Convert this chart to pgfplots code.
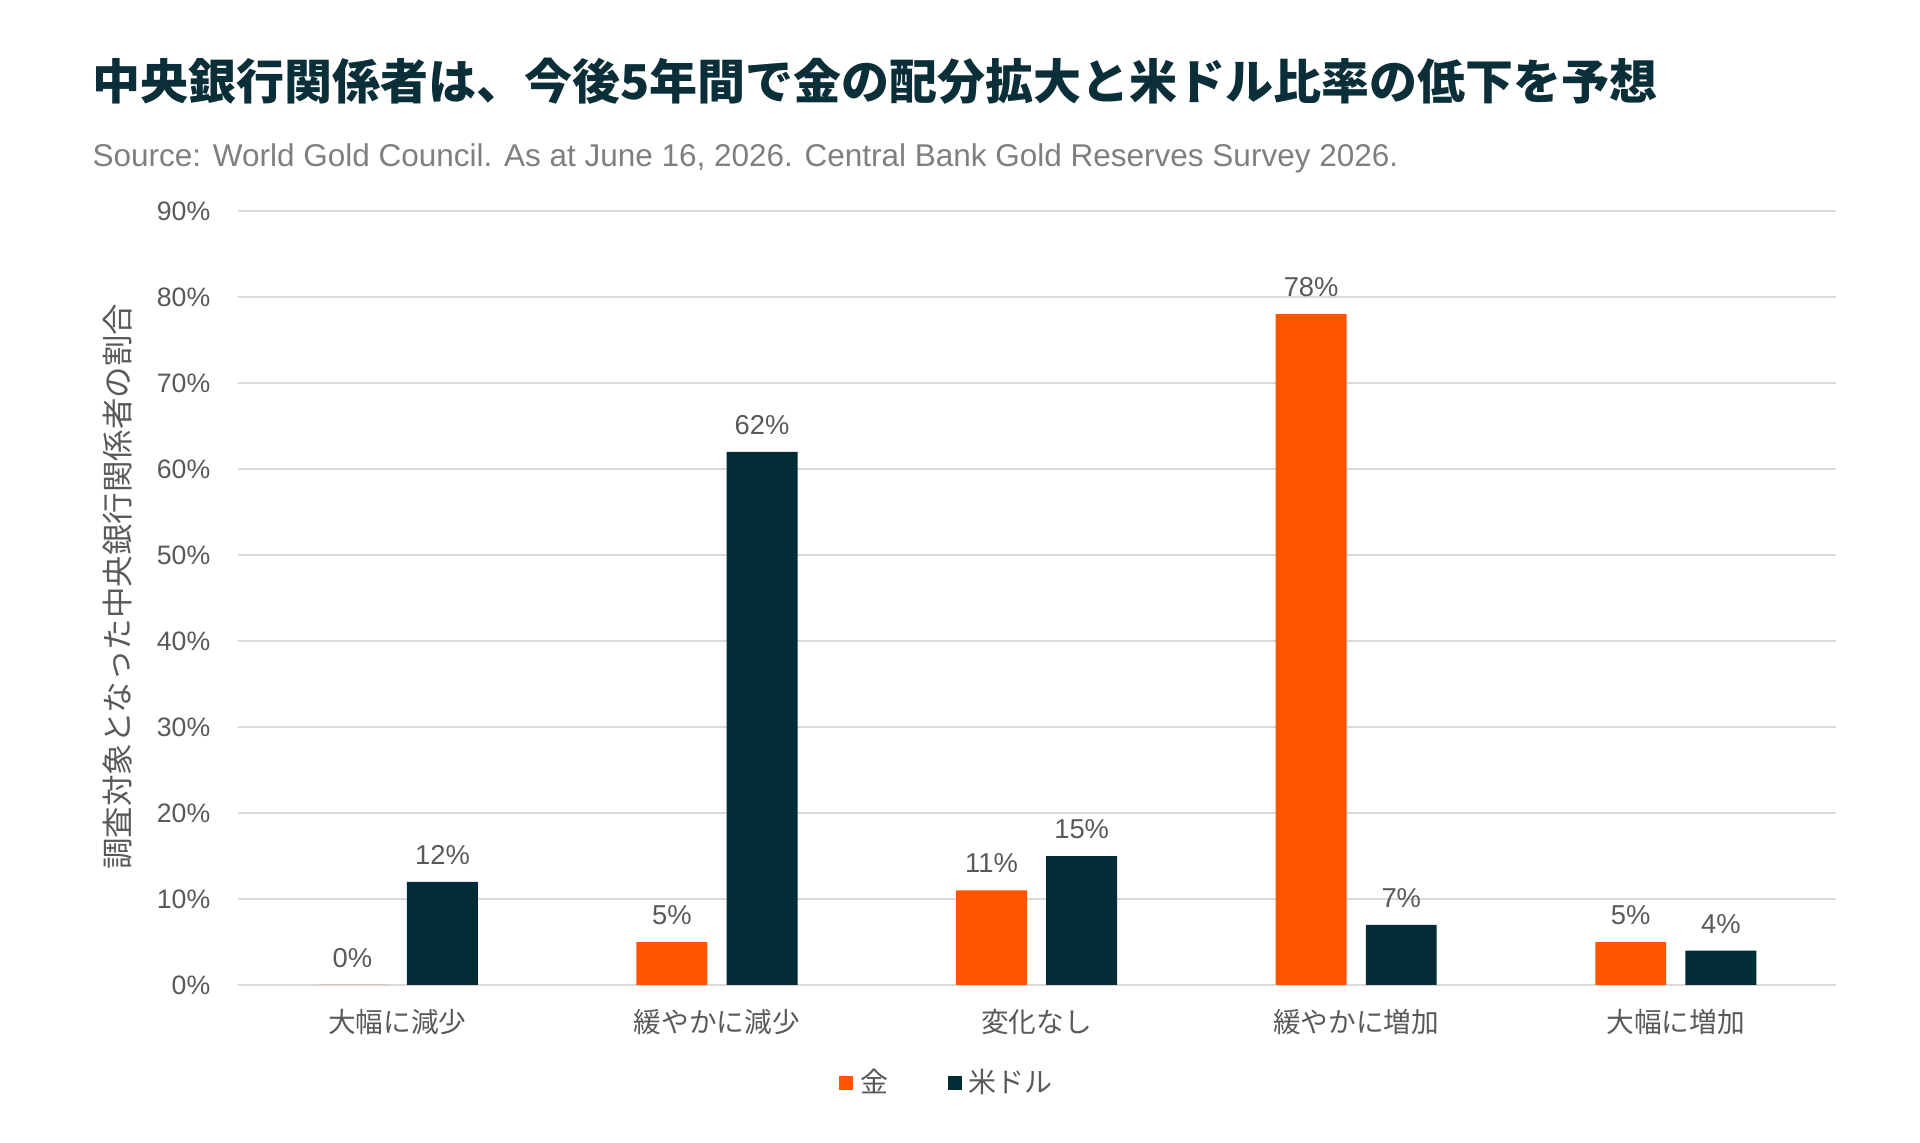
\documentclass[border=0pt]{standalone}
\usepackage{pgfplots}
\pgfplotsset{compat=1.18}
\usepackage{fontspec}
\setmainfont{Liberation Sans}
\newfontfamily\jp{Noto Sans CJK JP}
\definecolor{gold}{HTML}{FF5500}
\definecolor{usd}{HTML}{022D36}
\definecolor{titlec}{HTML}{0B2F38}
\definecolor{txt}{HTML}{595959}
\definecolor{subc}{HTML}{7F7F7F}
\definecolor{gridc}{HTML}{D9D9D9}
\begin{document}
\begin{tikzpicture}
\path[use as bounding box] (0,0) rectangle (576pt,342.9pt);
\begin{axis}[
  at={(71.28pt,47.4pt)}, anchor=south west,
  scale only axis, width=479.4pt, height=232.2pt,
  /pgf/number format/assume math mode=true,
  ybar, bar width=0.222,
  xmin=-0.5, xmax=4.5, ymin=0, ymax=90,
  xtick={0,1,2,3,4},
  xticklabels={大幅に減少,緩やかに減少,変化なし,緩やかに増加,大幅に増加},
  ytick={0,10,...,90},
  yticklabel={\pgfmathprintnumber{\tick}\%},
  axis line style={draw=none}, major tick length=0pt,
  ymajorgrids, grid style={gridc, line width=0.8pt},
  yticklabel style={font=\fontsize{8}{10}\selectfont, text=txt, inner sep=0pt, anchor=east, xshift=-8pt},
  xticklabel style={font=\jp\fontsize{8.3}{10}\selectfont, text=txt, inner sep=0pt, anchor=center, yshift=-11.1pt},
  nodes near coords={\pgfmathprintnumber{\pgfplotspointmeta}\%},
  every node near coord/.append style={font=\fontsize{8.2}{10}\selectfont, text=txt, anchor=south, inner sep=0pt, yshift=5pt},
  legend style={at={(0.4455,-0.1266)}, anchor=center, draw=none, fill=none, legend columns=2,
    font=\jp\fontsize{8.4}{10}\selectfont, text=txt,
    /tikz/every even column/.append style={column sep=16pt},
    nodes={inner sep=2pt}},
  legend cell align=left,
  legend image code/.code={\draw[#1,draw=none] (0pt,-2.1pt) rectangle (4.2pt,2.1pt);},
]
\addplot[fill=gold, draw=none, bar shift=-0.141] coordinates {(0,0) (1,5) (2,11) (3,78) (4,5)};
\addplot[fill=usd, draw=none, bar shift=0.141] coordinates {(0,12) (1,62) (2,15) (3,7) (4,4)};
\legend{金,米ドル}
\end{axis}
\node[anchor=west, inner sep=0pt, text=titlec, font=\jp\bfseries\fontsize{14.4}{17}\selectfont] at (27.6pt,318.4pt) {中央銀行関係者は、今後5年間で金の配分拡大と米ドル比率の低下を予想};
\node[anchor=base west, inner sep=0pt, text=subc, font=\fontsize{9.45}{11}\selectfont] at (27.6pt,293pt) {Source: World Gold Council. As at June 16, 2026. Central Bank Gold Reserves Survey 2026.};
\node[rotate=90, inner sep=0pt, text=txt, font=\jp\fontsize{9.45}{11}\selectfont] at (35.25pt,166.9pt) {調査対象となった中央銀行関係者の割合};
\end{tikzpicture}
\end{document}
